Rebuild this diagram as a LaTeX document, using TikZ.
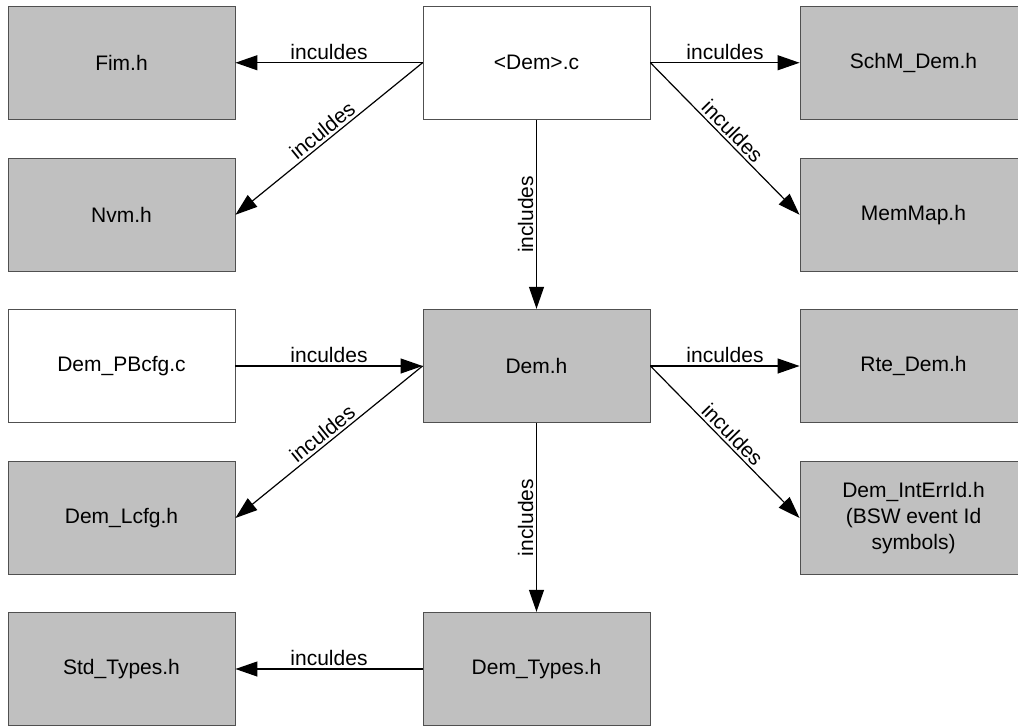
\documentclass[tikz,border=0pt]{standalone}
\usepackage{fontspec}
\setmainfont{Liberation Sans}
\usetikzlibrary{arrows.meta}
\definecolor{boxgray}{HTML}{C0C0C0}
\definecolor{boxedge}{HTML}{505050}
\begin{document}
\begin{tikzpicture}[x=1pt,y=-1pt,
  file/.style={draw=boxedge, line width=0.9pt, fill=boxgray,
    minimum width=227pt, minimum height=113.5pt, inner sep=0pt,
    font=\fontsize{21}{26}\selectfont, align=center},
  srcfile/.style={file, fill=white},
  inc/.style={draw=black, line width=1.2pt, -{Triangle[length=22pt,width=15pt]}},
  lbl/.style={font=\fontsize{21}{25}\selectfont, inner sep=2.5pt}]
\useasboundingbox (0,0) rectangle (1018,726);
\clip (0,0) rectangle (1018,726);
\fill[white] (0,0) rectangle (1018,726);

% left column
\node[file]    (fim)    at (121.5,62.75) {Fim.h};
\node[file]    (nvm)    at (121.5,214.75) {Nvm.h};
\node[srcfile] (pbcfg)  at (121.5,366) {Dem\_PBcfg.c};
\node[file]    (lcfg)   at (121.5,518) {Dem\_Lcfg.h};
\node[file]    (std)    at (121.5,669) {Std\_Types.h};
% centre column
\node[srcfile] (demc)   at (536.5,62.75) {<Dem>.c};
\node[file]    (demh)   at (536.5,366) {Dem.h};
\node[file]    (types)  at (536.5,669) {Dem\_Types.h};
% right column
\node[file]    (schm)   at (913.5,62.75) {SchM\_Dem.h};
\node[file]    (memmap) at (913.5,214.75) {MemMap.h};
\node[file]    (rte)    at (913.5,366) {Rte\_Dem.h};
\node[file]    (errid)  at (913.5,518) {Dem\_IntErrId.h\\(BSW event Id\\symbols)};

% include relations
\draw[inc] (demc.west) -- node[lbl, above] {inculdes} (fim.east);
\draw[inc] (demc.west) -- node[lbl, above, sloped] {inculdes} (nvm.east);
\draw[inc] (demc.east) -- node[lbl, above] {inculdes} (schm.west);
\draw[inc] (demc.east) -- node[lbl, above, sloped] {inculdes} (memmap.west);
\draw[inc] (demc.south) -- node[lbl, above, rotate=90] {includes} (demh.north);

\draw[inc] (pbcfg.east) -- node[lbl, above] {inculdes} (demh.west);
\draw[inc] (demh.west) -- node[lbl, above, sloped] {inculdes} (lcfg.east);
\draw[inc] (demh.east) -- node[lbl, above] {inculdes} (rte.west);
\draw[inc] (demh.east) -- node[lbl, above, sloped] {inculdes} (errid.west);
\draw[inc] (demh.south) -- node[lbl, above, rotate=90] {includes} (types.north);

\draw[inc] (types.west) -- node[lbl, above] {inculdes} (std.east);
\end{tikzpicture}
\end{document}
